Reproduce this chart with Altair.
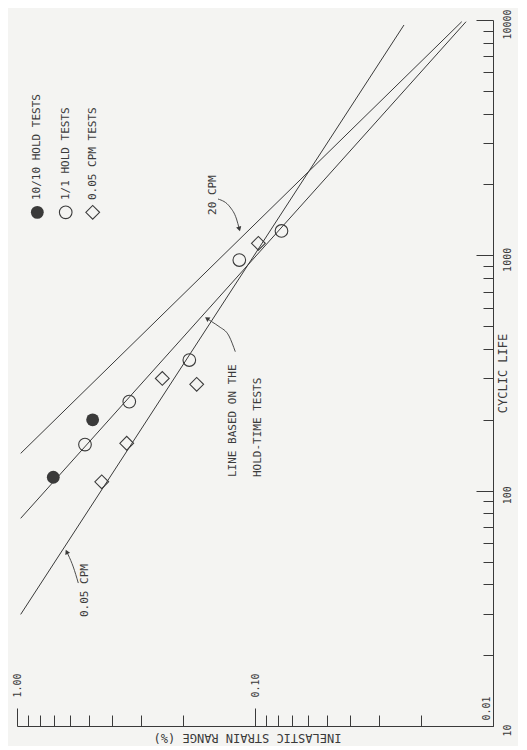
import altair as alt
import pandas as pd

# ---------------- data ----------------
# 10/10 hold tests (filled circles)
hold10_strain = [0.704, 0.481]
hold10_life = [114, 200]
# 1/1 hold tests (open circles)
hold1_strain = [0.518, 0.3375, 0.1888, 0.1164, 0.0774]
hold1_life = [157, 239, 359, 955, 1269]
# 0.05 cpm tests (diamonds)
cpm_strain = [0.4406, 0.346, 0.2452, 0.1758, 0.0968]
cpm_life = [109, 159, 300, 283, 1125]

# fitted lines (start / end)
line_names = ["20 CPM", "HOLD-TIME", "0.05 CPM"]
line_strain_start = [0.965, 0.965, 0.965]
line_life_start = [144, 76.3, 29.8]
line_strain_end = [0.01353, 0.01298, 0.02366]
line_life_end = [9835, 9835, 9524]

# annotations (anchored at the start of the rotated text)
annot_text = ["20 CPM", "0.05 CPM", "LINE BASED ON THE", "HOLD-TIME TESTS"]
annot_strain = [0.150, 0.518, 0.1237, 0.0971]
annot_life = [1484, 29.05, 114.3, 114.3]

# legend
legend_text = ["10/10 HOLD TESTS", "1/1 HOLD TESTS", "0.05 CPM TESTS"]
legend_strain = [0.8216, 0.6242, 0.4808]
legend_marker_life = [1523, 1523, 1523]
legend_text_life = [1718, 1718, 1718]

# leader arrows
arrow20_strain = [0.1430, 0.1274, 0.1196, 0.1164]
arrow20_life = [1735, 1605, 1427, 1294]
arrow005_strain = [0.5527, 0.5801, 0.6089, 0.6183]
arrow005_life = [40.5, 47.4, 53.3, 55.0]
arrowhold_strain = [0.121, 0.1286, 0.1417, 0.152, 0.1591]
arrowhold_life = [389.5, 454.2, 498.5, 522.4, 539]

# axes
strain_major = [1.0, 0.1, 0.01]
strain_major_labels = ["1.00", "0.10", "0.01"]
strain_minor_mult = [2, 3, 4, 5, 6, 7, 8, 9]
life_major = [10, 100, 1000, 10000]
life_major_labels = ["10", "100", "1000", "10000"]
life_minor_mult = [2, 3, 4, 5, 6, 7, 8, 9]

strain_all = strain_major + [m * d for d in [0.1, 0.01] for m in strain_minor_mult]
life_all = life_major + [m * d for d in [10, 100, 1000] for m in life_minor_mult]

# ---------------- styling ----------------
INK = "#3a3a3a"
BG = "#f4f4f2"
FONT = "DejaVu Sans Mono"
W, H = 476, 706

xs = alt.Scale(type="log", domain=[0.01, 1], reverse=True, nice=False)
ys = alt.Scale(type="log", domain=[10, 10000], nice=False)


def label_expr(values, labels):
    e = "''"
    for v, l in zip(reversed(values), reversed(labels)):
        e = f"datum.value == {v} ? '{l}' : ({e})"
    return e


x_axis_main = alt.Axis(
    orient="top", offset=-H, values=strain_all,
    tickSize={"condition": {"test": "indexof([1,0.1,0.01], datum.value) >= 0", "value": 18}, "value": 11},
    labelExpr=label_expr(strain_major, strain_major_labels),
    labelAngle=270, labelAlign="left", labelBaseline="middle",
    labelPadding={"condition": {"test": "datum.value == 0.01", "value": -12}, "value": 11},
    labelOffset={"condition": {"test": "datum.value == 0.01", "value": -7}, "value": 0},
    labelFont=FONT, labelFontSize=10, labelColor=INK, labelFlush=False, labelOverlap=False,
    tickColor=INK, tickWidth=1, domainColor=INK, domainWidth=1, grid=False,
    title="INELASTIC STRAIN RANGE (%)", titleAngle=180, titleX=230, titleY=11,
    titleAlign="center", titleBaseline="middle", titleFont=FONT, titleFontSize=12,
    titleFontWeight="normal", titleColor=INK,
)

y_axis_ticks = alt.Axis(
    orient="left", offset=-W, values=life_all,
    tickSize={"condition": {"test": "indexof([10,100,1000,10000], datum.value) >= 0", "value": 17}, "value": 10},
    labels=False, title=None, tickColor=INK, tickWidth=1, domainColor=INK, domainWidth=1, grid=False,
)

y_axis_labels = alt.Axis(
    orient="right", values=life_major, ticks=False, tickSize=0, domain=False, grid=False,
    labelExpr=label_expr(life_major, life_major_labels),
    labelAngle=270, labelAlign="center", labelBaseline="middle", labelPadding=14, labelOffset=4,
    labelFont=FONT, labelFontSize=10, labelColor=INK, labelFlush=False, labelOverlap=False,
    title="CYCLIC LIFE", titleAngle=270, titleX=9, titleY=H / 2,
    titleAlign="center", titleBaseline="middle", titleFont=FONT, titleFontSize=12,
    titleFontWeight="normal", titleColor=INK,
)

# ---------------- tables ----------------
lines_df = pd.DataFrame({
    "line": line_names * 2,
    "strain": line_strain_start + line_strain_end,
    "life": line_life_start + line_life_end,
})
hold10_df = pd.DataFrame({"strain": hold10_strain, "life": hold10_life})
hold1_df = pd.DataFrame({"strain": hold1_strain, "life": hold1_life})
cpm_df = pd.DataFrame({"strain": cpm_strain, "life": cpm_life})
annot_df = pd.DataFrame({"text": annot_text, "strain": annot_strain, "life": annot_life})
legend_df = pd.DataFrame({"text": legend_text, "strain": legend_strain,
                          "mlife": legend_marker_life, "tlife": legend_text_life})

arrows_df = pd.concat([
    pd.DataFrame({"arrow": "a20", "order": range(len(arrow20_strain)), "strain": arrow20_strain, "life": arrow20_life}),
    pd.DataFrame({"arrow": "a005", "order": range(len(arrow005_strain)), "strain": arrow005_strain, "life": arrow005_life}),
    pd.DataFrame({"arrow": "ahold", "order": range(len(arrowhold_strain)), "strain": arrowhold_strain, "life": arrowhold_life}),
])


def X(field="strain", axis=None):
    return alt.X(f"{field}:Q", scale=xs, axis=axis)


def Y(field="life", axis=None):
    return alt.Y(f"{field}:Q", scale=ys, axis=axis)


lines = alt.Chart(lines_df).mark_line(color=INK, strokeWidth=1).encode(
    x=X(axis=x_axis_main), y=Y(axis=y_axis_ticks), detail="line:N")

hold10 = alt.Chart(hold10_df).mark_point(shape="circle", filled=True, size=165, color=INK, opacity=1).encode(
    x=X(), y=Y(axis=y_axis_labels))
hold1 = alt.Chart(hold1_df).mark_point(shape="circle", filled=False, size=160, color=INK, strokeWidth=1.1, opacity=1).encode(
    x=X(), y=Y())
cpm = alt.Chart(cpm_df).mark_point(shape="diamond", filled=False, size=190, color=INK, strokeWidth=1.1, opacity=1).encode(
    x=X(), y=Y())

annots = alt.Chart(annot_df).mark_text(angle=270, align="left", baseline="middle", font=FONT,
                                       fontSize=11, color=INK).encode(x=X(), y=Y(), text="text:N")

leg_text = alt.Chart(legend_df).mark_text(angle=270, align="left", baseline="middle", font=FONT,
                                          fontSize=11, color=INK).encode(x=X(), y=Y("tlife"), text="text:N")
leg_m1 = alt.Chart(legend_df.iloc[[0]]).mark_point(shape="circle", filled=True, size=165, color=INK, opacity=1).encode(
    x=X(), y=Y("mlife"))
leg_m2 = alt.Chart(legend_df.iloc[[1]]).mark_point(shape="circle", filled=False, size=160, color=INK, strokeWidth=1.1, opacity=1).encode(
    x=X(), y=Y("mlife"))
leg_m3 = alt.Chart(legend_df.iloc[[2]]).mark_point(shape="diamond", filled=False, size=190, color=INK, strokeWidth=1.1, opacity=1).encode(
    x=X(), y=Y("mlife"))

arrows = alt.Chart(arrows_df).mark_line(color=INK, strokeWidth=0.9, interpolate="monotone").encode(
    x=X(), y=Y(), detail="arrow:N", order="order:Q")

head20 = alt.Chart(pd.DataFrame({"strain": [arrow20_strain[-1]], "life": [arrow20_life[-1]]})).mark_point(
    shape="triangle-down", filled=True, size=28, color=INK, angle=344, opacity=1).encode(x=X(), y=Y())
head005 = alt.Chart(pd.DataFrame({"strain": [arrow005_strain[-1]], "life": [arrow005_life[-1]]})).mark_point(
    shape="triangle-up", filled=True, size=28, color=INK, angle=334, opacity=1).encode(x=X(), y=Y())
headhold = alt.Chart(pd.DataFrame({"strain": [arrowhold_strain[-1]], "life": [arrowhold_life[-1]]})).mark_point(
    shape="triangle-left", filled=True, size=28, color=INK, angle=34, opacity=1).encode(x=X(), y=Y())

chart = alt.layer(
    lines, hold10, hold1, cpm, annots, leg_text, leg_m1, leg_m2, leg_m3, arrows, head20, head005, headhold
).resolve_axis(x="independent", y="independent").properties(
    width=W, height=H,
    autosize=alt.AutoSizeParams(type="none"),
    padding={"left": 9, "top": 12, "right": 25, "bottom": 20},
    background=BG,
).configure_view(stroke=None)

chart.save("out.html", embed_options={"renderer": "svg", "actions": False})
